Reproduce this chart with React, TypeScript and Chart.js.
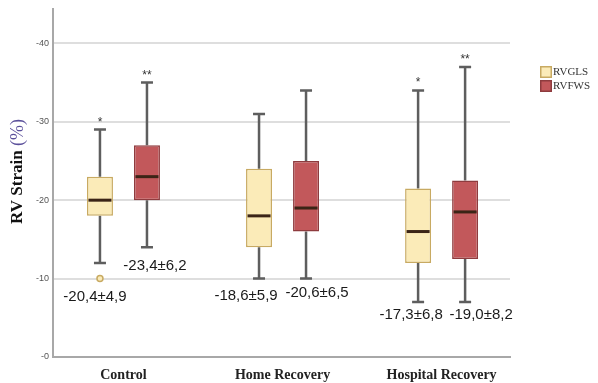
import React, { useEffect, useRef } from 'react';
import { Chart, registerables } from 'chart.js';

Chart.register(...registerables);

// ---- data (magnitudes of RV strain, axis labels are shown with a leading "-") ----
const categories = ['Control', 'Home Recovery', 'Hospital Recovery'];
const seriesNames = ['RVGLS', 'RVFWS'];

const rvglsMin = [12, 10, 7];
const rvglsQ1 = [18, 14, 12];
const rvglsMedian = [20, 18, 16];
const rvglsQ3 = [23, 24, 21.5];
const rvglsMax = [29, 31, 34];
const rvglsOutliers = [[10], [], []];
const rvglsSig = ['*', '', '*'];
const rvglsLabels = ['-20,4±4,9', '-18,6±5,9', '-17,3±6,8'];

const rvfwsMin = [14, 10, 7];
const rvfwsQ1 = [20, 16, 12.5];
const rvfwsMedian = [23, 19, 18.5];
const rvfwsQ3 = [27, 25, 22.5];
const rvfwsMax = [35, 34, 37];
const rvfwsOutliers = [[], [], []];
const rvfwsSig = ['**', '', '**'];
const rvfwsLabels = ['-23,4±6,2', '-20,6±6,5', '-19,0±8,2'];

const yTicks = [0, 10, 20, 30, 40];

// ---- styles ----
const fills = ['#fbebb8', '#c2585b'];
const borders = ['#c8aa62', '#8e3b3e'];
// label offsets relative to bar centre / lower whisker pixel
const labelOffsets = [
  [[-5, 34], [-13, 17.5], [-7, 13]],
  [[8, 19], [11, 14.5], [16, 13]],
];

export default function App() {
  const ref = useRef<HTMLCanvasElement>(null);

  useEffect(() => {
    const canvas = ref.current;
    if (!canvas) return;

    const stats = [
      { min: rvglsMin, q1: rvglsQ1, med: rvglsMedian, q3: rvglsQ3, max: rvglsMax, out: rvglsOutliers, sig: rvglsSig, lab: rvglsLabels },
      { min: rvfwsMin, q1: rvfwsQ1, med: rvfwsMedian, q3: rvfwsQ3, max: rvfwsMax, out: rvfwsOutliers, sig: rvfwsSig, lab: rvfwsLabels },
    ];

    const boxPlugin = {
      id: 'boxExtras',
      beforeDatasetsDraw(chart: any) {
        const ctx = chart.ctx;
        const ys = chart.scales.y;
        ctx.save();
        ctx.strokeStyle = '#5e5e5e';
        ctx.lineWidth = 2.5;
        stats.forEach((s, di) => {
          const meta = chart.getDatasetMeta(di);
          meta.data.forEach((el: any, i: number) => {
            const x = el.x;
            const yMin = ys.getPixelForValue(s.min[i]);
            const yMax = ys.getPixelForValue(s.max[i]);
            const yQ1 = ys.getPixelForValue(s.q1[i]);
            const yQ3 = ys.getPixelForValue(s.q3[i]);
            ctx.beginPath();
            ctx.moveTo(x, yQ3);
            ctx.lineTo(x, yMax);
            ctx.moveTo(x, yQ1);
            ctx.lineTo(x, yMin);
            ctx.moveTo(x - 6, yMax);
            ctx.lineTo(x + 6, yMax);
            ctx.moveTo(x - 6, yMin);
            ctx.lineTo(x + 6, yMin);
            ctx.stroke();
          });
        });
        ctx.restore();
      },
      afterDatasetsDraw(chart: any) {
        const ctx = chart.ctx;
        const ys = chart.scales.y;
        ctx.save();
        stats.forEach((s, di) => {
          const meta = chart.getDatasetMeta(di);
          meta.data.forEach((el: any, i: number) => {
            const x = el.x;
            const w = el.width;
            // median
            const yMed = ys.getPixelForValue(s.med[i]);
            ctx.strokeStyle = '#3b2416';
            ctx.lineWidth = 3;
            ctx.beginPath();
            ctx.moveTo(x - w / 2 + 1.5, yMed);
            ctx.lineTo(x + w / 2 - 1.5, yMed);
            ctx.stroke();
            // outliers
            s.out[i].forEach((v: number) => {
              const yo = ys.getPixelForValue(v);
              ctx.beginPath();
              ctx.arc(x, yo, 3, 0, Math.PI * 2);
              ctx.fillStyle = fills[di];
              ctx.fill();
              ctx.strokeStyle = borders[di];
              ctx.lineWidth = 1.5;
              ctx.stroke();
            });
            // significance marks
            if (s.sig[i]) {
              const yMax = ys.getPixelForValue(s.max[i]);
              ctx.fillStyle = '#333';
              ctx.font = '12px "Liberation Sans"';
              ctx.textAlign = 'center';
              ctx.textBaseline = 'alphabetic';
              ctx.fillText(s.sig[i], x, yMax - 4);
            }
            // mean ± sd labels
            const [dx, dy] = labelOffsets[di][i];
            const yMin = ys.getPixelForValue(s.min[i]);
            ctx.fillStyle = '#1a1a1a';
            ctx.font = '15px "Liberation Sans"';
            ctx.textAlign = 'center';
            ctx.textBaseline = 'middle';
            ctx.fillText(s.lab[i], x + dx, yMin + dy);
          });
        });
        ctx.restore();
      },
      afterDraw(chart: any) {
        const ctx = chart.ctx;
        ctx.save();
        // legend
        seriesNames.forEach((name, di) => {
          const top = 66 + di * 14;
          ctx.fillStyle = fills[di];
          ctx.fillRect(540, top, 12, 12);
          ctx.strokeStyle = borders[di];
          ctx.lineWidth = 1.5;
          ctx.strokeRect(540.75, top + 0.75, 10.5, 10.5);
          ctx.fillStyle = '#333';
          ctx.font = '11px "Liberation Serif"';
          ctx.textAlign = 'left';
          ctx.textBaseline = 'middle';
          ctx.fillText(name, 553, top + 6.5);
        });
        // y-axis title
        ctx.translate(18, 171.5);
        ctx.rotate(-Math.PI / 2);
        const part1 = 'RV Strain ';
        const part2 = '(%)';
        ctx.font = 'bold 17px "Liberation Serif"';
        const w1 = ctx.measureText(part1).width;
        ctx.font = '18px "Liberation Serif"';
        const w2 = ctx.measureText(part2).width;
        const start = -(w1 + w2) / 2;
        ctx.textAlign = 'left';
        ctx.textBaseline = 'middle';
        ctx.font = 'bold 17px "Liberation Serif"';
        ctx.fillStyle = '#111';
        ctx.fillText(part1, start, 0);
        ctx.font = '18px "Liberation Serif"';
        ctx.fillStyle = '#5a4f9a';
        ctx.fillText(part2, start + w1, 0);
        ctx.restore();
      },
    };

    const chart = new Chart(canvas, {
      type: 'bar',
      data: {
        datasets: seriesNames.map((name, di) => ({
          label: name,
          data: categories.map((_, i) => ({ x: i, y: [stats[di].q1[i], stats[di].q3[i]] })),
          backgroundColor: fills[di],
          borderColor: borders[di],
          borderWidth: 1.5,
          borderSkipped: false,
          categoryPercentage: 0.591,
          barPercentage: 0.553,
        })) as any,
      },
      options: {
        animation: false,
        responsive: true,
        maintainAspectRatio: false,
        layout: { padding: { top: 9, right: 88, left: 0, bottom: 0 } },
        plugins: { legend: { display: false }, tooltip: { enabled: false } },
        scales: {
          x: {
            type: 'linear',
            offset: false,
            min: -0.443,
            max: 2.43,
            grid: { display: false, offset: false },
            border: { display: true, color: '#a8a8a8', width: 2 },
            ticks: {
              stepSize: 1,
              includeBounds: false,
              padding: 2,
              color: '#222',
              font: { family: 'Liberation Serif', size: 14, weight: 'bold' },
              callback: (v: any) => (Number.isInteger(v) && categories[v] ? categories[v] : ''),
            },
            afterFit: (s: any) => {
              s.height = 26;
            },
          },
          y: {
            type: 'linear',
            min: 0,
            max: 44.33,
            grid: { color: '#dedede', lineWidth: 2, drawTicks: false },
            border: { display: true, color: '#a8a8a8', width: 2 },
            ticks: {
              stepSize: 10,
              includeBounds: false,
              padding: 4,
              color: '#555',
              font: { family: 'Liberation Sans', size: 9 },
              callback: (v: any) => (yTicks.includes(v) ? '-' + v : ''),
            },
            afterFit: (s: any) => {
              s.width = 53;
            },
          },
        },
      } as any,
      plugins: [boxPlugin],
    });

    return () => chart.destroy();
  }, []);

  return (
    <div style={{ position: 'absolute', left: 0, top: 0, width: 598, height: 383, background: '#fff' }}>
      <canvas ref={ref} />
    </div>
  );
}
